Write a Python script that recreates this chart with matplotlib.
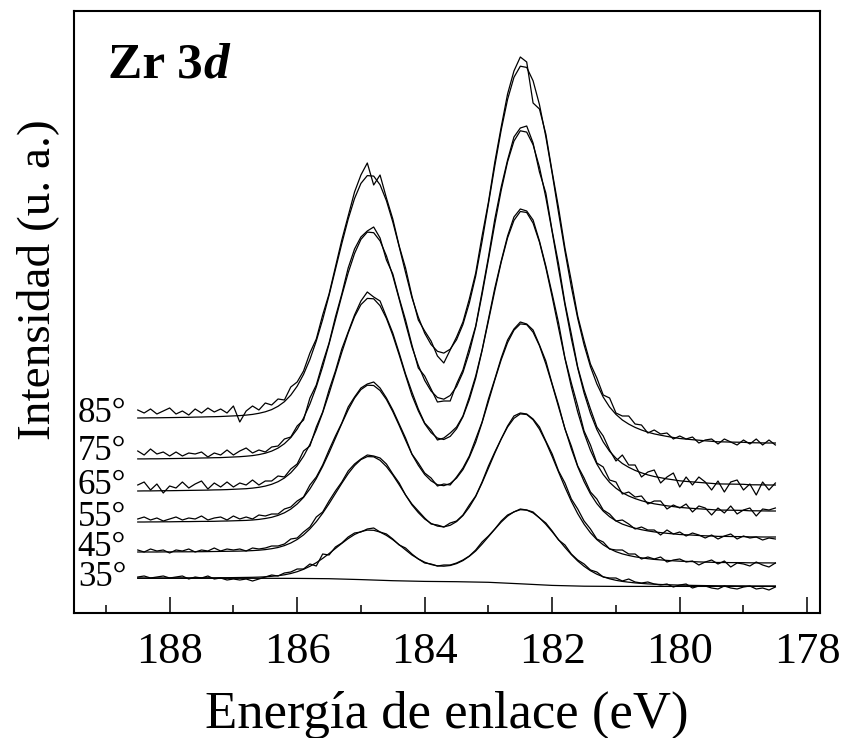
import numpy as np
import matplotlib
matplotlib.use("Agg")
import matplotlib.pyplot as plt
from matplotlib.ticker import MultipleLocator

plt.rcParams['font.family'] = ['Liberation Serif', 'DejaVu Serif']

# binding energy grid of the scans (0.1 eV step) and of the Shirley background
energy = np.linspace(188.5, 178.5, 101)
bg_energy = np.linspace(188.5, 178.5, 21)

angles = ['35°', '45°', '55°', '65°', '75°', '85°']
label_y = [27, 57, 87, 119, 153, 191]

# measured spectra (offset for each take-off angle), arbitrary units
raw_35 = [36, 37, 35, 36, 37, 35, 36, 37, 34, 36,
          35, 37, 34, 35, 33, 34, 33, 34, 32, 34,
          36, 38, 37, 40, 41, 44, 44, 49, 47, 59,
          58, 66, 70, 76, 80, 81, 84, 85, 81, 79,
          74, 68, 65, 59, 54, 50, 49, 47, 48, 48,
          50, 53, 57, 63, 71, 77, 84, 92, 98, 101,
          104, 103, 101, 95, 90, 82, 73, 68, 59, 53,
          49, 43, 41, 36, 35, 35, 32, 34, 31, 30,
          31, 29, 28, 29, 26, 28, 29, 25, 27, 27,
          25, 24, 27, 25, 24, 26, 27, 24, 25, 23,
          26]
raw_45 = [63, 61, 64, 62, 63, 60, 63, 62, 64, 61,
          63, 62, 65, 62, 64, 63, 64, 62, 65, 64,
          65, 67, 67, 69, 74, 75, 81, 86, 96, 101,
          112, 122, 131, 142, 149, 154, 158, 157, 155, 149,
          139, 130, 118, 109, 102, 95, 89, 88, 86, 90,
          92, 98, 108, 117, 131, 147, 161, 174, 187, 197,
          200, 199, 194, 186, 172, 159, 142, 130, 114, 104,
          92, 84, 74, 71, 64, 63, 63, 59, 59, 54,
          56, 54, 56, 51, 53, 54, 51, 52, 48, 51,
          53, 49, 52, 46, 50, 49, 47, 51, 48, 46,
          50]
raw_55 = [94, 96, 93, 95, 92, 94, 96, 93, 95, 94,
          97, 93, 95, 96, 93, 97, 94, 96, 94, 98,
          97, 99, 99, 104, 106, 112, 116, 128, 136, 148,
          163, 177, 190, 206, 216, 225, 229, 231, 225, 215,
          203, 189, 175, 159, 150, 140, 135, 127, 129, 128,
          136, 145, 157, 174, 191, 214, 234, 255, 273, 284,
          291, 289, 283, 268, 252, 229, 208, 184, 167, 147,
          135, 121, 114, 103, 99, 92, 93, 89, 84, 86,
          83, 83, 78, 83, 79, 81, 77, 80, 78, 75,
          78, 74, 77, 79, 74, 77, 75, 76, 73, 75,
          74]
raw_65 = [128, 131, 123, 129, 120, 127, 125, 131, 125, 129,
          132, 124, 130, 126, 131, 126, 130, 128, 133, 128,
          132, 132, 137, 136, 144, 149, 162, 167, 186, 201,
          223, 242, 264, 281, 298, 312, 321, 316, 312, 296,
          280, 260, 239, 221, 204, 190, 183, 173, 175, 180,
          186, 197, 216, 237, 263, 294, 325, 352, 377, 396,
          404, 402, 393, 372, 347, 319, 290, 255, 230, 207,
          182, 168, 150, 146, 133, 131, 119, 121, 116, 117,
          109, 112, 112, 104, 108, 105, 109, 101, 107, 105,
          98, 105, 100, 107, 99, 103, 105, 97, 104, 103,
          105]
raw_75 = [162, 158, 164, 159, 161, 157, 161, 157, 160, 159,
          161, 156, 160, 158, 163, 158, 162, 165, 160, 163,
          161, 166, 167, 174, 176, 187, 193, 215, 228, 250,
          270, 296, 319, 345, 364, 376, 382, 386, 375, 353,
          339, 315, 293, 268, 245, 237, 224, 211, 212, 212,
          229, 243, 265, 287, 321, 356, 394, 426, 453, 476,
          485, 487, 470, 441, 420, 382, 349, 310, 279, 246,
          223, 204, 186, 177, 163, 152, 158, 148, 148, 136,
          141, 143, 130, 136, 140, 126, 136, 128, 136, 131,
          123, 132, 121, 131, 133, 123, 129, 118, 131, 123,
          130]
raw_85 = [203, 200, 204, 199, 202, 205, 199, 202, 198, 204,
          200, 205, 201, 204, 200, 207, 191, 202, 207, 203,
          210, 208, 214, 213, 226, 231, 242, 260, 274, 298,
          319, 346, 373, 397, 421, 438, 450, 428, 438, 415,
          394, 367, 345, 317, 293, 282, 272, 257, 250, 263,
          276, 291, 314, 340, 377, 411, 451, 486, 519, 542,
          556, 551, 510, 504, 479, 441, 405, 365, 332, 297,
          272, 249, 235, 218, 215, 200, 197, 197, 189, 188,
          180, 183, 179, 180, 174, 177, 174, 176, 170, 173,
          174, 169, 174, 171, 168, 173, 169, 174, 168, 173,
          168]

# fitted envelopes (3d5/2 + 3d3/2 + background)
fit_35 = [35.0, 35.0, 35.0, 35.0, 35.0, 35.1, 35.1, 35.1, 35.1, 35.2,
          35.2, 35.2, 35.2, 35.3, 35.3, 35.4, 35.5, 35.6, 35.7, 35.9,
          36.2, 36.7, 37.3, 38.2, 39.5, 41.3, 43.7, 46.7, 50.3, 54.6,
          59.4, 64.5, 69.6, 74.4, 78.5, 81.4, 82.9, 82.7, 80.9, 77.6,
          73.3, 68.3, 63.1, 58.0, 54.1, 50.8, 48.5, 47.1, 46.8, 47.5,
          49.4, 52.4, 56.7, 62.0, 68.9, 76.3, 83.8, 90.9, 96.9, 101.2,
          103.3, 102.9, 100.1, 95.2, 88.7, 81.2, 73.3, 65.6, 58.4, 52.0,
          46.7, 42.3, 38.8, 36.2, 34.2, 32.7, 31.6, 30.8, 30.1, 29.6,
          29.1, 28.8, 28.5, 28.3, 28.1, 27.9, 27.8, 27.6, 27.5, 27.4,
          27.3, 27.2, 27.2, 27.2, 27.1, 27.1, 27.0, 27.0, 27.0, 27.0,
          27.0]
fit_45 = [61.0, 61.0, 61.0, 61.0, 61.1, 61.1, 61.2, 61.2, 61.2, 61.3,
          61.3, 61.4, 61.5, 61.6, 61.7, 61.8, 61.9, 62.1, 62.4, 62.8,
          63.4, 64.3, 65.5, 67.4, 70.0, 73.5, 78.1, 84.1, 91.3, 99.8,
          109.3, 119.5, 129.7, 139.3, 147.4, 153.4, 156.4, 156.2, 152.7, 146.4,
          138.0, 128.2, 118.0, 108.1, 100.4, 94.0, 89.6, 86.9, 86.1, 87.7,
          91.4, 97.4, 105.9, 116.5, 130.1, 144.9, 159.9, 174.0, 186.0, 194.7,
          199.1, 198.5, 193.2, 183.8, 171.1, 156.4, 140.9, 125.8, 111.7, 99.3,
          88.8, 80.2, 73.4, 68.2, 64.3, 61.3, 59.1, 57.5, 56.2, 55.2,
          54.3, 53.6, 53.1, 52.6, 52.2, 51.8, 51.6, 51.4, 51.1, 50.9,
          50.7, 50.5, 50.5, 50.4, 50.4, 50.3, 50.2, 50.1, 50.1, 50.1,
          50.0]
fit_55 = [91.0, 91.0, 91.1, 91.1, 91.2, 91.2, 91.3, 91.4, 91.4, 91.5,
          91.6, 91.6, 91.7, 91.9, 92.0, 92.2, 92.4, 92.6, 93.0, 93.6,
          94.5, 95.7, 97.6, 100.2, 103.9, 109.0, 115.6, 124.1, 134.4, 146.6,
          160.2, 174.8, 189.4, 203.2, 214.9, 223.4, 227.8, 227.5, 222.5, 213.5,
          201.4, 187.5, 172.9, 158.7, 147.7, 138.5, 132.2, 128.3, 127.3, 129.5,
          134.9, 143.4, 155.6, 170.8, 190.3, 211.5, 233.0, 253.2, 270.4, 282.8,
          289.1, 288.4, 280.8, 267.3, 249.1, 228.2, 206.0, 184.4, 164.2, 146.4,
          131.4, 119.1, 109.4, 101.9, 96.3, 92.1, 88.9, 86.7, 84.8, 83.3,
          82.1, 81.1, 80.4, 79.7, 79.1, 78.5, 78.2, 77.9, 77.5, 77.2,
          77.0, 76.6, 76.6, 76.5, 76.4, 76.4, 76.1, 76.1, 76.0, 76.0,
          76.0]
fit_65 = [122.0, 122.1, 122.1, 122.2, 122.3, 122.3, 122.4, 122.5, 122.6, 122.7,
          122.8, 122.9, 123.1, 123.2, 123.4, 123.7, 124.0, 124.3, 124.9, 125.7,
          126.9, 128.7, 131.3, 135.0, 140.2, 147.3, 156.7, 168.6, 183.2, 200.3,
          219.4, 240.0, 260.6, 279.9, 296.4, 308.4, 314.6, 314.2, 307.3, 294.6,
          277.7, 258.1, 237.6, 217.7, 202.1, 189.3, 180.4, 174.9, 173.5, 176.6,
          184.2, 196.2, 213.3, 234.8, 262.3, 292.1, 322.3, 350.8, 375.1, 392.6,
          401.5, 400.5, 389.9, 370.9, 345.4, 316.0, 284.9, 254.4, 226.1, 201.0,
          179.9, 162.6, 149.0, 138.5, 130.6, 124.8, 120.3, 117.0, 114.4, 112.3,
          110.6, 109.2, 108.2, 107.2, 106.4, 105.6, 105.1, 104.6, 104.2, 103.8,
          103.4, 102.9, 102.9, 102.8, 102.7, 102.6, 102.2, 102.2, 102.1, 102.0,
          102.0]
fit_75 = [154.1, 154.1, 154.2, 154.2, 154.3, 154.4, 154.5, 154.6, 154.7, 154.8,
          155.0, 155.1, 155.3, 155.4, 155.7, 156.0, 156.3, 156.8, 157.4, 158.4,
          159.8, 161.9, 164.9, 169.3, 175.4, 183.8, 194.9, 209.0, 226.1, 246.3,
          268.9, 293.1, 317.3, 340.1, 359.5, 373.6, 380.9, 380.3, 372.1, 357.1,
          337.1, 313.8, 289.6, 266.1, 247.7, 232.6, 222.0, 215.5, 213.8, 217.5,
          226.4, 240.6, 260.7, 286.0, 318.4, 353.5, 389.2, 422.7, 451.2, 471.9,
          482.2, 480.9, 468.3, 445.9, 415.6, 380.8, 344.0, 308.0, 274.5, 244.9,
          220.0, 199.6, 183.5, 171.1, 161.7, 154.8, 149.5, 145.7, 142.6, 140.2,
          138.1, 136.5, 135.3, 134.1, 133.2, 132.2, 131.6, 131.1, 130.6, 130.1,
          129.6, 129.1, 129.0, 128.9, 128.8, 128.7, 128.2, 128.2, 128.1, 128.0,
          128.0]
fit_85 = [195.0, 195.1, 195.2, 195.2, 195.3, 195.4, 195.5, 195.6, 195.7, 195.9,
          196.0, 196.2, 196.3, 196.5, 196.8, 197.1, 197.4, 197.9, 198.6, 199.7,
          201.2, 203.4, 206.7, 211.3, 217.9, 226.8, 238.6, 253.6, 272.0, 293.5,
          317.6, 343.5, 369.4, 393.8, 414.5, 429.6, 437.4, 436.9, 428.2, 412.3,
          391.0, 366.3, 340.5, 315.4, 295.9, 279.8, 268.5, 261.7, 259.9, 263.8,
          273.3, 288.5, 310.0, 337.0, 371.6, 409.1, 447.2, 483.0, 513.6, 535.7,
          546.8, 545.6, 532.2, 508.4, 476.3, 439.3, 400.1, 361.8, 326.1, 294.6,
          268.1, 246.3, 229.1, 215.9, 206.0, 198.6, 193.0, 188.9, 185.6, 183.0,
          180.8, 179.1, 177.8, 176.6, 175.5, 174.5, 173.9, 173.3, 172.8, 172.2,
          171.7, 171.2, 171.1, 170.9, 170.8, 170.7, 170.3, 170.2, 170.1, 170.0,
          170.0]

# Shirley background under the 35° spectrum
bg_35 = [34.7, 34.7, 34.7, 34.7, 34.7, 34.6, 34.3, 33.4, 32.3, 31.6, 31.3,
         30.7, 29.2, 27.6, 26.8, 26.6, 26.6, 26.6, 26.6, 26.6, 26.6]

raw_all = [raw_35, raw_45, raw_55, raw_65, raw_75, raw_85]
fit_all = [fit_35, fit_45, fit_55, fit_65, fit_75, fit_85]

fig = plt.figure(figsize=(8.45, 7.38), dpi=100)
ax = fig.add_axes([74 / 845, 125 / 738, 746 / 845, 602 / 738])

for raw, fit in zip(raw_all, fit_all):
    ax.plot(energy, raw, color='black', lw=0.9)
    ax.plot(energy, fit, color='black', lw=0.9)
ax.plot(bg_energy, bg_35, color='black', lw=0.9)

for lab, y in zip(angles, label_y):
    ax.text(189.44, y, lab, fontsize=25, va='baseline', ha='left')

ax.set_xlim(189.5, 177.8)
ax.set_ylim(0, 602)
ax.set_xticks([188, 186, 184, 182, 180, 178])
ax.xaxis.set_minor_locator(MultipleLocator(1))
ax.tick_params(axis='x', which='major', direction='in', length=11.5, width=1.1,
               labelsize=32, pad=13.5, top=False)
ax.tick_params(axis='x', which='minor', direction='in', length=5.8, width=1.1, top=False)
ax.set_yticks([])
for s in ax.spines.values():
    s.set_linewidth(1.5)

ax.set_xlabel('Energía de enlace (eV)', fontsize=38)
ax.xaxis.set_label_coords(0.5, -0.129)
ax.set_ylabel('Intensidad (u. a.)', fontsize=34)
ax.yaxis.set_label_coords(-0.020, 0.553)

# panel title: "Zr 3" bold, "d" bold italic
t = ax.text(0.046, 0.889, 'Zr 3', transform=ax.transAxes, fontsize=37,
            fontweight='bold', va='baseline')
fig.canvas.draw()
bb = t.get_window_extent()
x_d = ax.transAxes.inverted().transform((bb.x1, bb.y0))[0]
ax.text(x_d, 0.889, 'd', transform=ax.transAxes, fontsize=37,
        fontweight='bold', fontstyle='italic', va='baseline')

fig.savefig('out.png', dpi=100)
